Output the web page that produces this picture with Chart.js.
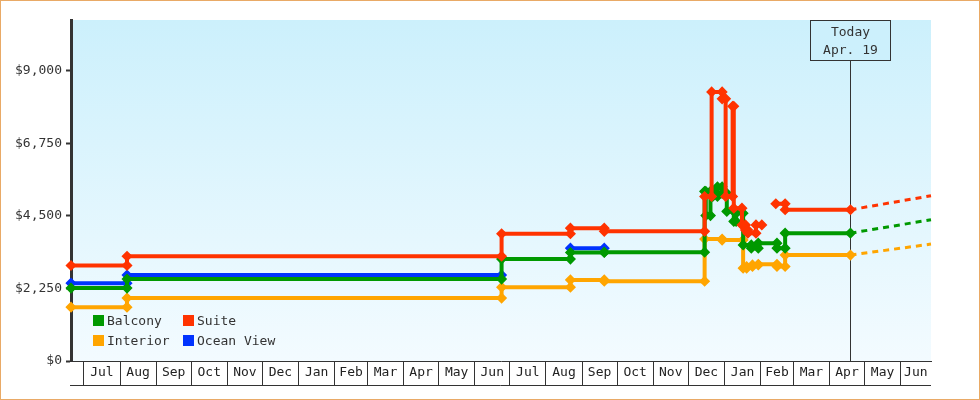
<!DOCTYPE html>
<html>
<head>
<meta charset="utf-8">
<script src="https://cdn.jsdelivr.net/npm/chart.js@4.4.0/dist/chart.umd.min.js"></script>
<style>
html, body { margin: 0; padding: 0; background: #fff; }
#moldura { width: 980px; height: 400px; box-sizing: border-box; border: 1px solid #e9aa66; }
#moldura canvas { display: block; }
</style>
</head>
<body>
<div id="moldura"><canvas id="graficoPrecos" width="978" height="398"></canvas></div>
<script>
// categorias na ordem da legenda
var categorias = ['Balcony', 'Suite', 'Interior', 'Ocean View'];
var coresCategorias = ['#009900', '#ff3300', '#ffa500', '#0033ff'];

// cada preco vale do datas[i] ate datas[i+1]; null = sem preco
var balconyDatas = ['2021-06-20', '2021-08-07', '2022-06-24', '2022-08-22', '2022-09-20', '2022-12-15', '2022-12-16', '2022-12-20', '2022-12-22', '2022-12-26', '2022-12-30', '2023-01-03', '2023-01-09', '2023-01-11', '2023-01-17', '2023-01-24', '2023-01-30', '2023-02-15', '2023-02-22', '2023-04-19'];
var balconyPrecos = [2260, 2540, 3160, 3365, 3375, 5260, 4510, 5260, 5100, 5400, 5200, 4640, 4330, 4580, 3600, 3500, 3655, 3500, 3965];

var suiteDatas = ['2021-06-20', '2021-08-07', '2022-06-24', '2022-08-22', '2022-09-20', '2022-12-15', '2022-12-21', '2022-12-30', '2023-01-02', '2023-01-08', '2023-01-09', '2023-01-16', '2023-01-19', '2023-01-21', '2023-01-28', '2023-02-02', '2023-02-14', '2023-02-22', '2023-04-19'];
var suitePrecos = [2960, 3250, 3945, 4120, 4020, 5100, 8345, 8130, 5100, 7900, 4740, 4220, 4060, 3965, 4220, null, 4875, 4690];

var interiorDatas = ['2021-06-20', '2021-08-07', '2022-06-24', '2022-08-22', '2022-09-20', '2022-12-15', '2022-12-30', '2023-01-17', '2023-01-20', '2023-01-25', '2023-01-30', '2023-02-15', '2023-02-22', '2023-04-19'];
var interiorPrecos = [1670, 1950, 2290, 2515, 2475, 3780, 3750, 2880, 2930, 2980, 3000, 2930, 3285];

var oceanDatas = ['2021-06-20', '2021-08-07', '2022-06-24', '2022-08-22', '2022-09-20'];
var oceanPrecos = [2415, 2665, null, 3500];

// projecao tracejada de hoje ate o fim do eixo
var hoje = '2023-04-19';
var rotuloHoje = ['Today', 'Apr. 19'];
var fimProjecao = '2023-06-27';
var projecaoBalcony = [3965, 4380];
var projecaoSuite = [4690, 5125];
var projecaoInterior = [3285, 3625];

var inicioEixo = '2021-06-20';
var ticksY = [0, 2250, 4500, 6750, 9000];
var maxY = 10575;
var mesesAbreviados = ['Jan', 'Feb', 'Mar', 'Apr', 'May', 'Jun', 'Jul', 'Aug', 'Sep', 'Oct', 'Nov', 'Dec'];

function dia(s) {
	var p = s.split('-');
	return Date.UTC(+p[0], +p[1] - 1, +p[2]) / 86400000;
}

function montarPontos(datas, precos) {
	var pontos = [];
	precos.forEach(function(preco, i) {
		if (preco === null) {
			pontos.push({ x: dia(datas[i]), y: null });
			return;
		}
		pontos.push({ x: dia(datas[i]), y: preco });
		pontos.push({ x: dia(datas[i + 1]), y: preco });
	});
	return pontos;
}

function serie(nome, cor, pontos) {
	return {
		label: nome,
		data: pontos,
		borderColor: cor,
		backgroundColor: cor,
		borderWidth: 4,
		pointStyle: 'rectRot',
		pointRadius: 4.5,
		pointBorderWidth: 1.5,
		pointHoverRadius: 4.5,
		tension: 0,
		spanGaps: false,
		clip: false
	};
}

function projecao(cor, valores) {
	return {
		label: '',
		data: [{ x: dia(hoje), y: valores[0] }, { x: dia(fimProjecao), y: valores[1] }],
		borderColor: cor,
		borderWidth: 3,
		borderDash: [6, 5],
		pointRadius: 0,
		tension: 0,
		clip: false
	};
}

// marcas do eixo x: limites dos meses e rotulo no meio de cada mes visivel
var xMin = dia(inicioEixo);
var xMax = dia(fimProjecao);
var ticksX = [];
var rotuloPorValor = {};
(function() {
	var ini = new Date(xMin * 86400000);
	var ano = ini.getUTCFullYear();
	var mes = ini.getUTCMonth();
	var inicioMes = Date.UTC(ano, mes, 1) / 86400000;
	while (inicioMes < xMax) {
		var proximo = Date.UTC(ano, mes + 1, 1) / 86400000;
		var a = Math.max(inicioMes, xMin);
		var b = Math.min(proximo, xMax);
		if (inicioMes > xMin) ticksX.push({ value: inicioMes });
		if (b - a >= 20) {
			var meio = (a + b) / 2;
			ticksX.push({ value: meio });
			rotuloPorValor[meio] = mesesAbreviados[mes];
		}
		mes++;
		if (mes > 11) { mes = 0; ano++; }
		inicioMes = proximo;
	}
})();

var fundoGradiente = {
	id: 'fundoGradiente',
	beforeDraw: function(chart) {
		var ctx = chart.ctx, area = chart.chartArea;
		var g = ctx.createLinearGradient(0, area.top, 0, area.bottom);
		g.addColorStop(0, '#ccf0fc');
		g.addColorStop(1, '#f3fbff');
		ctx.save();
		ctx.fillStyle = g;
		ctx.fillRect(area.left, area.top, area.right - area.left, area.bottom - area.top);
		ctx.restore();
	}
};

var marcaHoje = {
	id: 'marcaHoje',
	beforeDatasetsDraw: function(chart) {
		var ctx = chart.ctx, area = chart.chartArea;
		var px = Math.round(chart.scales.x.getPixelForValue(dia(hoje))) + 0.5;
		ctx.save();
		ctx.strokeStyle = '#333';
		ctx.lineWidth = 1;
		ctx.beginPath();
		ctx.moveTo(px, area.top + 40);
		ctx.lineTo(px, area.bottom);
		ctx.stroke();
		ctx.fillStyle = '#ccf0fc';
		ctx.fillRect(px - 40, area.top + 0.5, 80, 40);
		ctx.strokeRect(px - 40, area.top + 0.5, 80, 40);
		ctx.fillStyle = '#333';
		ctx.font = '13px "DejaVu Sans Mono"';
		ctx.textAlign = 'center';
		ctx.textBaseline = 'middle';
		ctx.fillText(rotuloHoje[0], px, area.top + 13);
		ctx.fillText(rotuloHoje[1], px, area.top + 31);
		ctx.restore();
	}
};

var legendaInterna = {
	id: 'legendaInterna',
	afterDatasetsDraw: function(chart) {
		var ctx = chart.ctx, area = chart.chartArea;
		ctx.save();
		ctx.font = '13px "DejaVu Sans Mono"';
		ctx.textAlign = 'left';
		ctx.textBaseline = 'middle';
		categorias.forEach(function(nome, i) {
			var x = area.left + 22 + (i % 2) * 90;
			var y = area.bottom - 46 + Math.floor(i / 2) * 20;
			ctx.fillStyle = coresCategorias[i];
			ctx.fillRect(x, y, 11, 11);
			ctx.fillStyle = '#333';
			ctx.fillText(nome, x + 14, y + 6.5);
		});
		ctx.restore();
	}
};

var linhaBase = {
	id: 'linhaBase',
	afterDraw: function(chart) {
		var ctx = chart.ctx, area = chart.chartArea;
		var y = chart.scales.x.top + 24.5;
		ctx.save();
		ctx.strokeStyle = '#333';
		ctx.lineWidth = 1;
		ctx.beginPath();
		ctx.moveTo(area.left - 1, y);
		ctx.lineTo(area.right, y);
		ctx.stroke();
		ctx.restore();
	}
};

Chart.defaults.font.family = '"DejaVu Sans Mono", monospace';
Chart.defaults.font.size = 13;
Chart.defaults.color = '#333';

var ctx = document.getElementById('graficoPrecos').getContext('2d');
var graficoPrecos = new Chart(ctx, {
	type: 'line',
	data: {
		datasets: [
			serie(categorias[1], coresCategorias[1], montarPontos(suiteDatas, suitePrecos)),
			serie(categorias[0], coresCategorias[0], montarPontos(balconyDatas, balconyPrecos)),
			serie(categorias[3], coresCategorias[3], montarPontos(oceanDatas, oceanPrecos)),
			serie(categorias[2], coresCategorias[2], montarPontos(interiorDatas, interiorPrecos)),
			projecao(coresCategorias[1], projecaoSuite),
			projecao(coresCategorias[0], projecaoBalcony),
			projecao(coresCategorias[2], projecaoInterior)
		]
	},
	options: {
		responsive: false,
		animation: false,
		events: [],
		layout: { padding: { left: 0, top: 19, right: 48, bottom: 13 } },
		plugins: {
			legend: { display: false },
			tooltip: { enabled: false }
		},
		scales: {
			x: {
				type: 'linear',
				min: xMin,
				max: xMax,
				afterBuildTicks: function(scale) {
					scale.ticks = ticksX.map(function(t) { return { value: t.value }; });
				},
				afterFit: function(scale) { scale.height = 25; },
				border: { display: true, color: '#333', width: 1 },
				grid: {
					display: true,
					drawOnChartArea: false,
					drawTicks: true,
					tickLength: 24,
					tickWidth: 1,
					tickColor: function(c) {
						return c.tick && rotuloPorValor[c.tick.value] ? 'rgba(0,0,0,0)' : '#333';
					}
				},
				ticks: {
					autoSkip: false,
					maxRotation: 0,
					minRotation: 0,
					padding: -20,
					color: '#222',
					callback: function(valor) { return rotuloPorValor[valor] || ''; }
				}
			},
			y: {
				min: 0,
				max: maxY,
				afterBuildTicks: function(scale) {
					scale.ticks = ticksY.map(function(v) { return { value: v }; });
				},
				afterFit: function(scale) { scale.width = 70; },
				border: { display: true, color: '#333', width: 3 },
				grid: {
					display: true,
					drawOnChartArea: false,
					drawTicks: true,
					tickLength: 5,
					tickWidth: 2,
					tickColor: '#333'
				},
				ticks: {
					padding: 4,
					color: '#333',
					callback: function(valor) { return '$' + valor.toLocaleString('en-US'); }
				}
			}
		}
	},
	plugins: [fundoGradiente, marcaHoje, legendaInterna, linhaBase]
});
</script>
</body>
</html>
